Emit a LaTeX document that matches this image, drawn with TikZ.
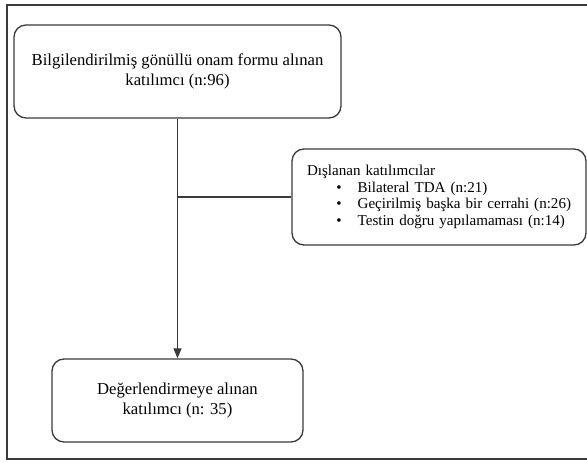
\documentclass[tikz,border=0pt]{standalone}
\usepackage{fontspec}
\setmainfont{Liberation Serif}
\usetikzlibrary{arrows.meta}
\definecolor{linec}{HTML}{3A3A3A}
\tikzset{
  box/.style={draw=linec, line width=1pt, rounded corners=9pt, fill=white, align=center,
    inner sep=0pt, font=\rmfamily\fontsize{12.5}{14.5}\selectfont},
  conn/.style={draw=linec, line width=1pt},
}
\newcommand\itembul[1]{\mbox{\makebox[22pt]{}\makebox[16pt][l]{\textbullet}#1}}
\begin{document}
\begin{tikzpicture}[x=0.75pt,y=-0.75pt]
\useasboundingbox (0,0) rectangle (587,463);
\clip (0,0) rectangle (587,463);
\draw[draw=linec, line width=1pt] (7,5) rectangle (620,459);
\node[box, minimum width=245.25pt, minimum height=69.75pt] (b1) at (177.5,71.5)
  {Bilgilendirilmiş gönüllü onam formu alınan\\katılımcı (n:96)};
\node[box, minimum width=188.25pt, minimum height=62.25pt] (b3) at (177.5,400.5)
  {Değerlendirmeye alınan\\katılımcı (n: 35)};
\node[box, minimum width=220.5pt, minimum height=72pt, align=left, inner xsep=11.25pt,
  text width=198pt, font=\rmfamily\fontsize{11.3}{12.4}\selectfont] (b2) at (439,197)
  {Dışlanan katılımcılar\\
   \itembul{Bilateral TDA (n:21)}\\
   \itembul{Geçirilmiş başka bir cerrahi (n:26)}\\
   \itembul{Testin doğru yapılamaması (n:14)}};
\coordinate (j) at (b1.south |- b2.west);
\draw[conn, -{Triangle[length=7.5pt,width=6pt]}] (b1.south) -- (b3.north);
\draw[conn] (j) -- (b2.west);
\end{tikzpicture}
\end{document}
